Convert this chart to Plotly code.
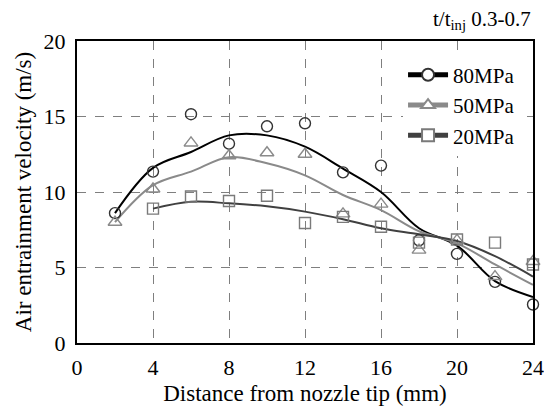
import plotly.graph_objects as go

# ---- data ----
dist_mm = [2, 4, 6, 8, 10, 12, 14, 16, 18, 20, 22, 24]
vel_80 = [8.6, 11.35, 15.15, 13.2, 14.35, 14.55, 11.3, 11.75, 6.8, 5.9, 4.05, 2.55]
vel_50 = [8.0, 10.2, 13.25, 12.4, 12.6, 12.5, 8.55, 9.2, 6.15, 6.8, 4.4, 5.4]
dist_20 = [4, 6, 8, 10, 12, 14, 16, 18, 20, 22, 24]
vel_20 = [8.9, 9.7, 9.4, 9.75, 7.95, 8.35, 7.7, 6.65, 6.85, 6.65, 5.2]

# smoothed trend curves
fit_80 = [8.6, 11.6, 12.65, 13.75, 13.75, 13.0, 11.55, 10.0, 7.6, 6.45, 4.1, 3.05]
fit_50 = [8.0, 10.45, 11.35, 12.3, 11.9, 11.1, 9.8, 8.8, 7.4, 6.6, 5.2, 3.85]
fit_20 = [8.9, 9.35, 9.25, 9.05, 8.7, 8.2, 7.6, 7.2, 6.75, 5.75, 4.4]

x_ticks = [0, 4, 8, 12, 16, 20, 24]
y_ticks = [0, 5, 10, 15, 20]
labels = ["80MPa", "50MPa", "20MPa"]

FONT = "Liberation Serif, Times New Roman, serif"
c80_line, c50_line, c20_line = "#000000", "#8a8a8a", "#404040"
c80_mk, c50_mk, c20_mk = "#333333", "#8a8a8a", "#7a7a7a"

fig = go.Figure()

series = [
    (dist_mm, vel_80, fit_80, labels[0], c80_line, c80_mk, "circle-open", 11),
    (dist_mm, vel_50, fit_50, labels[1], c50_line, c50_mk, "triangle-up-open", 12),
    (dist_20, vel_20, fit_20, labels[2], c20_line, c20_mk, "square-open", 11),
]

# curves first (under markers)
for xs, ys, fs, name, lc, mc, sym, sz in series:
    fig.add_trace(go.Scatter(x=xs, y=fs, mode="lines", showlegend=False,
                             line=dict(color=lc, width=2, shape="spline", smoothing=1.0),
                             hoverinfo="skip", cliponaxis=False))
for xs, ys, fs, name, lc, mc, sym, sz in series:
    fig.add_trace(go.Scatter(x=xs, y=ys, mode="markers", showlegend=False, cliponaxis=False,
                             marker=dict(symbol=sym, size=sz, color=mc,
                                         line=dict(width=1.4, color=mc))))
# legend entries (line + marker)
for xs, ys, fs, name, lc, mc, sym, sz in series:
    fig.add_trace(go.Scatter(x=[None], y=[None], mode="lines+markers", name=name,
                             line=dict(color=lc, width=1.2),
                             marker=dict(symbol=sym.replace("-open", ""), size=sz - 1, color="white",
                                         line=dict(width=1.2, color=mc))))

axis_common = dict(showline=True, linecolor="black", linewidth=2, mirror=True,
                   showgrid=True, gridcolor="#7f7f7f", griddash="dash", gridwidth=1,
                   zeroline=False, ticks="", automargin=False,
                   tickfont=dict(family=FONT, size=22, color="black"),
                   title_font=dict(family=FONT, size=23, color="black"))

fig.update_xaxes(range=[0, 24], tickvals=x_ticks, ticktext=[str(v) for v in x_ticks],
                 ticklabelstandoff=4,
                 title_text="Distance from nozzle tip (mm)", title_standoff=5, **axis_common)
fig.update_yaxes(range=[0, 20], tickvals=y_ticks, ticktext=[str(v) for v in y_ticks],
                 ticklabelstandoff=5,
                 title_text="Air entrainment velocity (m/s)", title_standoff=6, **axis_common)

fig.add_annotation(text="t/t<sub>inj</sub> 0.3-0.7", xref="paper", yref="paper",
                   x=1.0, y=1.0, xanchor="right", yanchor="bottom", yshift=6, showarrow=False,
                   font=dict(family=FONT, size=21, color="black"))

fig.update_layout(
    width=544, height=410,
    margin=dict(l=77, r=11, t=41, b=67),
    plot_bgcolor="white", paper_bgcolor="white",
    font=dict(family=FONT, color="black"),
    legend=dict(x=0.715, y=0.955, xanchor="left", yanchor="top",
                bgcolor="rgba(255,255,255,1)", borderwidth=0,
                font=dict(family=FONT, size=21, color="black"),
                tracegroupgap=0, itemsizing="constant", itemwidth=40),
)

fig.write_html("out.html")
